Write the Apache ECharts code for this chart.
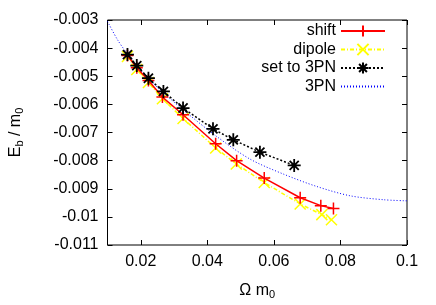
<!DOCTYPE html>
<html>
<head>
<meta charset="utf-8">
<script src="https://cdn.jsdelivr.net/npm/echarts@6/dist/echarts.min.js"></script>
<style>html,body{margin:0;padding:0;background:#fff}#c{width:436px;height:305px}</style>
</head>
<body>
<div id="c"></div>
<script>
// Data
var shiftOmega = [0.016, 0.0188, 0.0223, 0.0265, 0.0327, 0.0425, 0.0488, 0.0571, 0.0679, 0.0741, 0.0779];
var shiftE     = [-0.00426, -0.0047, -0.00515, -0.00574, -0.00637, -0.0074, -0.008, -0.00862, -0.00932, -0.0096, -0.0097];

var dipoleOmega = [0.016, 0.0188, 0.0223, 0.0265, 0.0327, 0.0425, 0.0487, 0.0571, 0.0679, 0.0744, 0.0773];
var dipoleE     = [-0.0043, -0.00476, -0.00522, -0.0058, -0.0065, -0.00755, -0.00812, -0.00878, -0.00954, -0.00992, -0.0101];

var set3Omega = [0.016, 0.0188, 0.0223, 0.0268, 0.0327, 0.0417, 0.0478, 0.0558, 0.0661];
var set3E     = [-0.00423, -0.00462, -0.00507, -0.00554, -0.00613, -0.00687, -0.00726, -0.0077, -0.00817];

var pnOmega = [0.010, 0.013, 0.016, 0.019, 0.022, 0.026, 0.0328, 0.0429, 0.0529, 0.0629, 0.0729, 0.0829, 0.0929, 0.1];
var pnE     = [-0.00305, -0.0037, -0.00421, -0.00465, -0.00505, -0.0055, -0.0062, -0.00715, -0.00795, -0.00848, -0.00892, -0.00925, -0.00939, -0.00943];

var xTicks = [0.02, 0.04, 0.06, 0.08, 0.1];
var seriesNames = ['shift', 'dipole', 'set to 3PN', '3PN'];

function pairs(xs, ys) { return xs.map(function (x, i) { return [x, ys[i]]; }); }

var FONT = 'Liberation Sans';
var plusPath = 'path://M0,5L10,5M5,0L5,10';
var crossPath = 'path://M0,0L10,10M0,10L10,0';
var starPath = 'path://M0,5L10,5M5,0L5,10M1.5,1.5L8.5,8.5M1.5,8.5L8.5,1.5';

var chart = echarts.init(document.getElementById('c'), null, {renderer: 'canvas'});
chart.setOption({
  animation: false,
  backgroundColor: '#fff',
  textStyle: {fontFamily: FONT},
  grid: {left: 107, right: 29, top: 20, bottom: 51, show: true, borderColor: '#000', borderWidth: 1, backgroundColor: 'transparent'},
  legend: {
    data: seriesNames,
    orient: 'vertical',
    align: 'right',
    right: 50,
    top: 23,
    itemWidth: 44,
    itemHeight: 14,
    itemGap: 2.5,
    padding: 0,
    textStyle: {fontFamily: FONT, fontSize: 16, color: '#000'}
  },
  xAxis: [{
    type: 'value', min: 0.01, max: 0.1,
    name: 'Ω m{sub|0}', nameLocation: 'middle', nameGap: 36,
    nameTextStyle: {fontFamily: FONT, fontSize: 16, color: '#000', rich: {sub: {fontSize: 11, verticalAlign: 'bottom', padding: [8, 0, 0, 0], fontFamily: FONT}}},
    axisLine: {show: false},
    axisTick: {inside: true, length: 5, lineStyle: {color: '#000'}, customValues: xTicks},
    axisLabel: {customValues: xTicks, margin: 9, fontSize: 16, color: '#000', fontFamily: FONT,
      formatter: function (v) { return String(parseFloat(v.toFixed(3))); }},
    splitLine: {show: false}
  }, {
    type: 'value', min: 0.01, max: 0.1, position: 'top',
    axisLine: {show: false},
    axisTick: {inside: true, length: 5, lineStyle: {color: '#000'}, customValues: xTicks},
    axisLabel: {show: false},
    splitLine: {show: false}
  }],
  yAxis: [{
    type: 'value', min: -0.011, max: -0.003, interval: 0.001,
    name: 'E{sub|b} / m{sub|0}', nameLocation: 'middle', nameGap: 82, nameRotate: 90,
    nameTextStyle: {fontFamily: FONT, fontSize: 16, color: '#000', rich: {sub: {fontSize: 11, verticalAlign: 'bottom', padding: [8, 0, 0, 0], fontFamily: FONT}}},
    axisLine: {show: false},
    axisTick: {inside: true, length: 5, lineStyle: {color: '#000'}},
    axisLabel: {margin: 9, fontSize: 16, color: '#000', fontFamily: FONT,
      formatter: function (v) { return String(parseFloat(v.toFixed(3))); }},
    splitLine: {show: false}
  }, {
    type: 'value', min: -0.011, max: -0.003, interval: 0.001, position: 'right',
    axisLine: {show: false},
    axisTick: {inside: true, length: 5, lineStyle: {color: '#000'}},
    axisLabel: {show: false},
    splitLine: {show: false}
  }],
  series: [{
    name: seriesNames[0], type: 'line', data: pairs(shiftOmega, shiftE),
    symbol: plusPath, symbolSize: 12,
    itemStyle: {color: '#ff0000', borderColor: '#ff0000', borderWidth: 1.5},
    lineStyle: {color: '#ff0000', width: 1.5, type: 'solid'},
    z: 3
  }, {
    name: seriesNames[1], type: 'line', data: pairs(dipoleOmega, dipoleE),
    symbol: crossPath, symbolSize: 11,
    itemStyle: {color: '#ffff00', borderColor: '#ffff00', borderWidth: 1.5},
    lineStyle: {color: '#ffff00', width: 1.5, type: [4, 2, 1, 2]},
    z: 2
  }, {
    name: seriesNames[2], type: 'line', data: pairs(set3Omega, set3E),
    symbol: starPath, symbolSize: 13,
    itemStyle: {color: '#000', borderColor: '#000', borderWidth: 1.8},
    lineStyle: {color: '#000', width: 1.5, type: [2, 2]},
    z: 4
  }, {
    name: seriesNames[3], type: 'line', data: pairs(pnOmega, pnE),
    symbol: 'circle', symbolSize: 1, showSymbol: false, smooth: 0.3,
    itemStyle: {color: 'rgba(0,0,255,0)', borderColor: 'rgba(0,0,255,0)', borderWidth: 0},
    lineStyle: {color: '#0000ff', width: 1, type: [1, 2]},
    z: 1
  }]
});
</script>
</body>
</html>
